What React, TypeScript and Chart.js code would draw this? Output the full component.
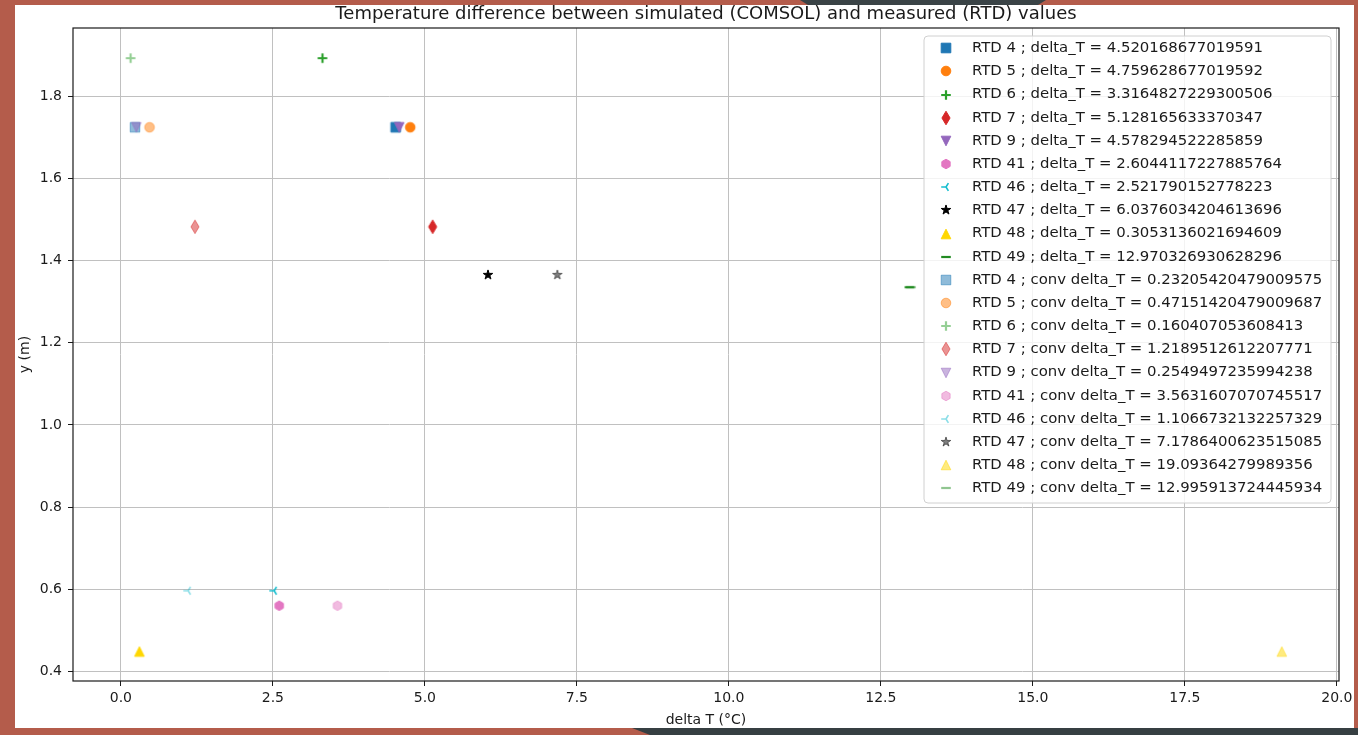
import React, { useEffect, useRef } from 'react';
import { Chart, registerables } from 'chart.js';

Chart.register(...registerables);

const chartTitle = 'Temperature difference between simulated (COMSOL) and measured (RTD) values';
const xAxisLabel = 'delta T (°C)';
const yAxisLabel = 'y (m)';

const rtdLabels = ['RTD 4', 'RTD 5', 'RTD 6', 'RTD 7', 'RTD 9', 'RTD 41', 'RTD 46', 'RTD 47', 'RTD 48', 'RTD 49'];
const deltaT = [
  4.520168677019591, 4.759628677019592, 3.3164827229300506, 5.128165633370347, 4.578294522285859,
  2.6044117227885764, 2.521790152778223, 6.0376034204613696, 0.3053136021694609, 12.970326930628296,
];
const convDeltaT = [
  0.23205420479009575, 0.47151420479009687, 0.160407053608413, 1.2189512612207771, 0.2549497235994238,
  3.5631607070745517, 1.1066732132257329, 7.1786400623515085, 19.09364279989356, 12.995913724445934,
];
const yPositions = [1.724, 1.724, 1.892, 1.482, 1.724, 0.5605, 0.597, 1.365, 0.449, 1.335];
const markerShapes = ['s', 'o', '+', 'd', 'v', 'h', '3', '*', '^', '_'];
const markerColors = ['#1f77b4', '#ff7f0e', '#2ca02c', '#d62728', '#9467bd', '#e377c2', '#17becf', '#000000', '#ffd700', '#228b22'];

const xTicks = [0, 2.5, 5, 7.5, 10, 12.5, 15, 17.5, 20];
const xTickLabels = ['0.0', '2.5', '5.0', '7.5', '10.0', '12.5', '15.0', '17.5', '20.0'];
const yTicks = [0.4, 0.6, 0.8, 1.0, 1.2, 1.4, 1.6, 1.8];
const yTickLabels = ['0.4', '0.6', '0.8', '1.0', '1.2', '1.4', '1.6', '1.8'];

const FONT = "'DejaVu Sans', sans-serif";

function makeMarker(shape: string, color: string, alpha: number): HTMLCanvasElement {
  const c = document.createElement('canvas');
  c.width = 22;
  c.height = 22;
  const ctx = c.getContext('2d') as CanvasRenderingContext2D;
  const cx = 11;
  const cy = 11;
  const r = 4.8;
  ctx.fillStyle = color;
  ctx.strokeStyle = color;
  ctx.lineWidth = 1;
  ctx.lineJoin = 'miter';
  const fillStroke = () => {
    ctx.globalAlpha = alpha;
    ctx.fill();
    ctx.globalAlpha = alpha;
    ctx.stroke();
  };
  ctx.beginPath();
  switch (shape) {
    case 's':
      ctx.rect(cx - r, cy - r, 2 * r, 2 * r);
      fillStroke();
      break;
    case 'o':
      ctx.arc(cx, cy, r, 0, Math.PI * 2);
      fillStroke();
      break;
    case '+':
      ctx.lineWidth = 2.2;
      ctx.moveTo(cx - r, cy);
      ctx.lineTo(cx + r, cy);
      ctx.moveTo(cx, cy - r);
      ctx.lineTo(cx, cy + r);
      ctx.globalAlpha = alpha;
      ctx.stroke();
      break;
    case 'd': {
      const h = r * Math.SQRT2;
      const w = h * 0.6;
      ctx.moveTo(cx, cy - h);
      ctx.lineTo(cx + w, cy);
      ctx.lineTo(cx, cy + h);
      ctx.lineTo(cx - w, cy);
      ctx.closePath();
      fillStroke();
      break;
    }
    case 'v':
      ctx.moveTo(cx, cy + r);
      ctx.lineTo(cx - r, cy - r);
      ctx.lineTo(cx + r, cy - r);
      ctx.closePath();
      fillStroke();
      break;
    case '^':
      ctx.moveTo(cx, cy - r);
      ctx.lineTo(cx - r, cy + r);
      ctx.lineTo(cx + r, cy + r);
      ctx.closePath();
      fillStroke();
      break;
    case 'h':
      for (let k = 0; k < 6; k++) {
        const a = -Math.PI / 2 + (k * Math.PI) / 3;
        const px = cx + r * Math.cos(a);
        const py = cy + r * Math.sin(a);
        if (k === 0) ctx.moveTo(px, py);
        else ctx.lineTo(px, py);
      }
      ctx.closePath();
      fillStroke();
      break;
    case '3':
      ctx.lineWidth = 1.6;
      ctx.moveTo(cx, cy);
      ctx.lineTo(cx - r, cy);
      ctx.moveTo(cx, cy);
      ctx.lineTo(cx + 0.5 * r, cy - 0.8 * r);
      ctx.moveTo(cx, cy);
      ctx.lineTo(cx + 0.5 * r, cy + 0.8 * r);
      ctx.globalAlpha = alpha;
      ctx.stroke();
      break;
    case '*': {
      const ro = r * 1.05;
      const ri = ro * 0.381966;
      for (let k = 0; k < 10; k++) {
        const a = -Math.PI / 2 + (k * Math.PI) / 5;
        const rr = k % 2 === 0 ? ro : ri;
        const px = cx + rr * Math.cos(a);
        const py = cy + rr * Math.sin(a);
        if (k === 0) ctx.moveTo(px, py);
        else ctx.lineTo(px, py);
      }
      ctx.closePath();
      fillStroke();
      break;
    }
    case '_':
      ctx.lineWidth = 2.2;
      ctx.moveTo(cx - r, cy);
      ctx.lineTo(cx + r, cy);
      ctx.globalAlpha = alpha;
      ctx.stroke();
      break;
    default:
      break;
  }
  return c;
}

const CHART_LEFT = 73;
const CHART_TOP = 28;
const CHART_RIGHT = 1339;
const CHART_BOTTOM = 681;
const W = 1358;
const H = 735;

export default function App() {
  const canvasRef = useRef<HTMLCanvasElement | null>(null);

  useEffect(() => {
    const canvas = canvasRef.current;
    if (!canvas) return;

    const entries: { label: string; marker: HTMLCanvasElement }[] = [];
    const datasets: any[] = [];
    const total = rtdLabels.length * 2;

    rtdLabels.forEach((lab, i) => {
      const m = makeMarker(markerShapes[i], markerColors[i], 1);
      entries.push({ label: `${lab} ; delta_T = ${deltaT[i]}`, marker: m });
      datasets.push({
        label: `${lab} ; delta_T = ${deltaT[i]}`,
        data: [{ x: deltaT[i], y: yPositions[i] }],
        pointStyle: m,
        pointRadius: 5,
        order: total - datasets.length,
      });
    });
    rtdLabels.forEach((lab, i) => {
      const m = makeMarker(markerShapes[i], markerColors[i], 0.5);
      entries.push({ label: `${lab} ; conv delta_T = ${convDeltaT[i]}`, marker: m });
      datasets.push({
        label: `${lab} ; conv delta_T = ${convDeltaT[i]}`,
        data: [{ x: convDeltaT[i], y: yPositions[i] }],
        pointStyle: m,
        pointRadius: 5,
        order: total - datasets.length,
      });
    });

    const decor = {
      id: 'decor',
      afterDraw(chart: any) {
        const ctx = chart.ctx as CanvasRenderingContext2D;
        const a = chart.chartArea;
        ctx.save();
        // frame
        ctx.strokeStyle = '#1a1a1a';
        ctx.lineWidth = 1.2;
        ctx.strokeRect(a.left, a.top, a.right - a.left, a.bottom - a.top);

        // title and axis labels
        ctx.fillStyle = '#1a1a1a';
        ctx.textAlign = 'center';
        ctx.textBaseline = 'middle';
        ctx.font = `18px ${FONT}`;
        ctx.fillText(chartTitle, (a.left + a.right) / 2, 14);
        ctx.font = `14px ${FONT}`;
        ctx.fillText(xAxisLabel, (a.left + a.right) / 2, 720);
        ctx.save();
        ctx.translate(25, (a.top + a.bottom) / 2);
        ctx.rotate(-Math.PI / 2);
        ctx.fillText(yAxisLabel, 0, 0);
        ctx.restore();

        // legend
        const lx = 924;
        const ly = 36;
        const lw = 407;
        const lh = 467;
        const rad = 4;
        ctx.beginPath();
        ctx.moveTo(lx + rad, ly);
        ctx.lineTo(lx + lw - rad, ly);
        ctx.arcTo(lx + lw, ly, lx + lw, ly + rad, rad);
        ctx.lineTo(lx + lw, ly + lh - rad);
        ctx.arcTo(lx + lw, ly + lh, lx + lw - rad, ly + lh, rad);
        ctx.lineTo(lx + rad, ly + lh);
        ctx.arcTo(lx, ly + lh, lx, ly + lh - rad, rad);
        ctx.lineTo(lx, ly + rad);
        ctx.arcTo(lx, ly, lx + rad, ly, rad);
        ctx.closePath();
        ctx.fillStyle = 'rgba(255,255,255,0.8)';
        ctx.fill();
        ctx.strokeStyle = '#d0d0d0';
        ctx.lineWidth = 1;
        ctx.stroke();

        ctx.font = `14.9px ${FONT}`;
        ctx.textAlign = 'left';
        ctx.textBaseline = 'middle';
        ctx.fillStyle = '#1a1a1a';
        const rowStep = 23.16;
        entries.forEach((e, k) => {
          const yy = 48.3 + k * rowStep;
          ctx.drawImage(e.marker, Math.round(945.5 - e.marker.width / 2), Math.round(yy - e.marker.height / 2));
          ctx.fillText(e.label, 972, yy);
        });
        ctx.restore();
      },
    };

    const chart = new Chart(canvas, {
      type: 'scatter',
      data: { datasets },
      options: {
        responsive: false,
        animation: false,
        events: [],
        layout: { padding: { left: 0, top: CHART_TOP, right: W - CHART_RIGHT, bottom: 0 } },
        plugins: {
          legend: { display: false },
          title: { display: false },
          tooltip: { enabled: false },
        },
        scales: {
          x: {
            type: 'linear',
            min: -0.787,
            max: 20.035,
            afterBuildTicks: (scale: any) => {
              scale.ticks = xTicks.map((v) => ({ value: v }));
            },
            afterFit: (scale: any) => {
              scale.height = H - CHART_BOTTOM;
            },
            ticks: {
              autoSkip: false,
              maxRotation: 0,
              padding: 4,
              color: '#1a1a1a',
              font: { family: FONT, size: 14 },
              callback: (_v: any, i: number) => xTickLabels[i],
            },
            grid: { color: '#c0c0c0', lineWidth: 1, tickColor: '#1a1a1a', tickLength: 5, drawTicks: true },
            border: { display: false },
          },
          y: {
            type: 'linear',
            min: 0.3774,
            max: 1.9654,
            afterBuildTicks: (scale: any) => {
              scale.ticks = yTicks.map((v) => ({ value: v }));
            },
            afterFit: (scale: any) => {
              scale.width = CHART_LEFT;
            },
            ticks: {
              autoSkip: false,
              padding: 6,
              color: '#1a1a1a',
              font: { family: FONT, size: 14 },
              callback: (_v: any, i: number) => yTickLabels[i],
            },
            grid: { color: '#c0c0c0', lineWidth: 1, tickColor: '#1a1a1a', tickLength: 5, drawTicks: true },
            border: { display: false },
          },
        },
      },
      plugins: [decor],
    } as any);

    return () => {
      chart.destroy();
    };
  }, []);

  return (
    <div style={{ position: 'fixed', left: 0, top: 0, width: W, height: H, background: '#b45c4b', overflow: 'hidden' }}>
      <div style={{ position: 'absolute', left: 15, top: 5, width: 1339, height: 723, background: '#ffffff' }} />
      <div
        style={{
          position: 'absolute',
          left: 0,
          top: 0,
          width: W,
          height: H,
          background: '#3a4346',
          clipPath: 'polygon(800px 0px, 1046px 0px, 1038px 5px, 808px 5px)',
        }}
      />
      <div
        style={{
          position: 'absolute',
          left: 0,
          top: 0,
          width: W,
          height: H,
          background: '#363f42',
          clipPath: 'polygon(632px 728px, 1358px 728px, 1358px 735px, 650px 735px)',
        }}
      />
      <canvas ref={canvasRef} width={W} height={H} style={{ position: 'absolute', left: 0, top: 0, display: 'block' }} />
    </div>
  );
}
